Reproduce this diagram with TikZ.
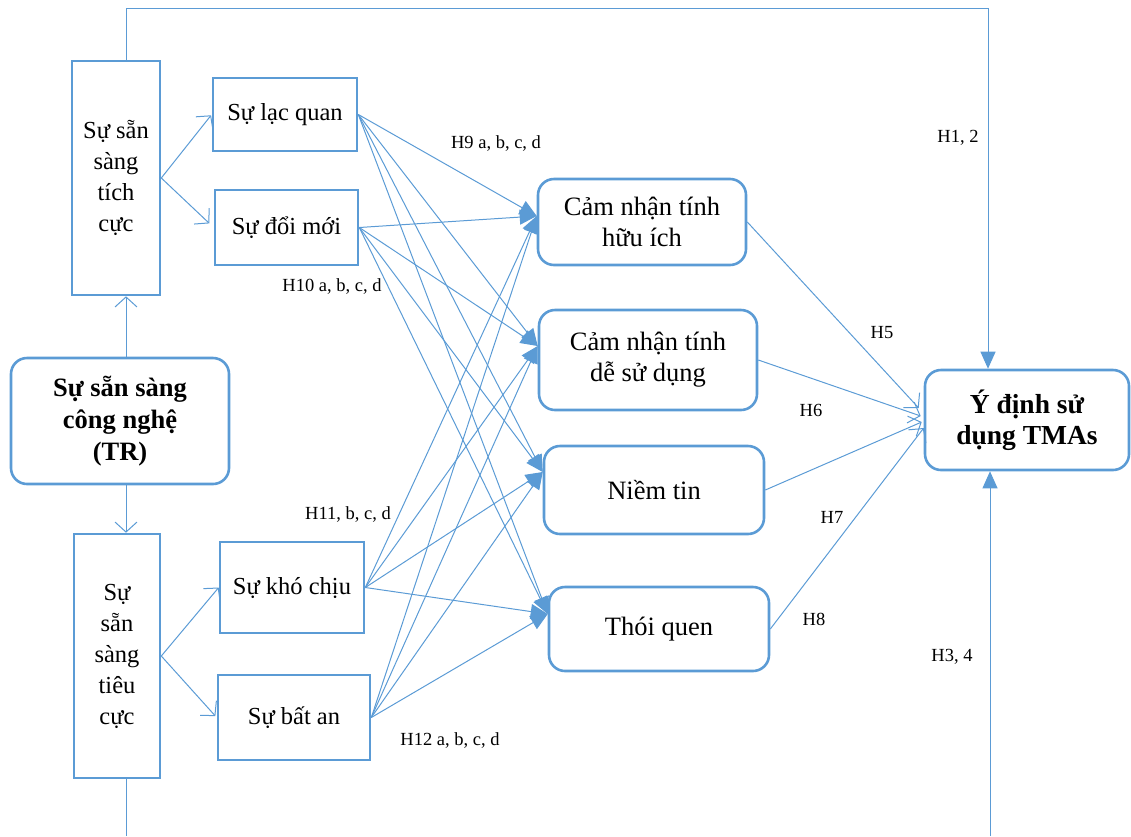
\documentclass[tikz,border=0pt]{standalone}
\usepackage{fontspec}
\setmainfont{Liberation Serif}
\usetikzlibrary{arrows.meta,calc}
\definecolor{lblue}{HTML}{5B9BD5}
\begin{document}
\begin{tikzpicture}[x=1pt,y=-1pt,
  box/.style={draw=lblue,line width=2.6pt,inner sep=0pt,align=center,font=\fontsize{24.5}{31}\selectfont},
  rbox/.style={box,rounded corners=16pt,font=\fontsize{26.5}{31}\selectfont},
  conn/.style={draw=lblue,line width=1pt},
  fat/.style={conn,-{Triangle[length=17pt,width=15pt]}},
  barb/.style={conn,-{Straight Barb[length=10pt,width=22pt,line width=1pt]}},
  lbl/.style={font=\fontsize{18.5}{20}\selectfont,inner sep=0pt}]
\useasboundingbox (0,0) rectangle (1131,836);
% nodes
\node[box,minimum width=88pt,minimum height=234pt] (pos) at (116,178) {Sự sẵn\\sàng\\tích\\cực};
\node[box,minimum width=144pt,minimum height=73pt] (lac) at (285,114.5) {Sự lạc quan};
\node[box,minimum width=143pt,minimum height=75pt] (doi) at (286.5,227.5) {Sự đổi mới};
\node[rbox,minimum width=218pt,minimum height=126pt,font=\bfseries\fontsize{26.5}{32}\selectfont] (tr) at (120,421) {Sự sẵn sàng\\công nghệ\\(TR)};
\node[box,minimum width=86pt,minimum height=244pt] (neg) at (117,656) {Sự\\sẵn\\sàng\\tiêu\\cực};
\node[box,minimum width=144pt,minimum height=91pt] (kho) at (292,587.5) {Sự khó chịu};
\node[box,minimum width=152pt,minimum height=85pt] (bat) at (294,717.5) {Sự bất an};
\node[rbox,minimum width=208pt,minimum height=86pt] (pu) at (642,222) {Cảm nhận tính\\hữu ích};
\node[rbox,minimum width=218pt,minimum height=100pt] (peou) at (648,360) {Cảm nhận tính\\dễ sử dụng};
\node[rbox,minimum width=220pt,minimum height=88pt] (nt) at (654,490) {Niềm tin};
\node[rbox,minimum width=220pt,minimum height=84pt] (tq) at (659,629) {Thói quen};
\node[rbox,minimum width=204pt,minimum height=100pt,font=\bfseries\fontsize{27.5}{31}\selectfont] (int) at (1027,420) {Ý định sử\\dụng TMAs};
% coordinates
\coordinate (lx) at (126,0);
\coordinate (rx) at (988,0);
\coordinate (topl) at (126,8);
\coordinate (botl) at (126,836);
\coordinate (botr) at (990,836);
% TR links
\draw[barb] (tr.north -| lx) -- (pos.south -| lx);
\draw[barb] (tr.south -| lx) -- (neg.north -| lx);
\draw[conn] (pos.north -| lx) -- (topl);
\draw[fat] (topl) -| (int.north -| rx);
\draw[conn] (neg.south -| lx) -- (botl);
\draw[fat] (botr) -- (int.south -| botr);
% second level
\draw[barb,shorten >=1pt] (pos.east) -- (lac.west);
\draw[barb,shorten >=6pt] (pos.east) -- (doi.west);
\draw[barb] (neg.east) -- (kho.west);
\draw[barb,shorten >=2pt] (neg.east) -- (bat.west);
% antecedents to mediators
\foreach \s in {lac,doi,kho,bat}{
  \draw[fat] (\s.east) -- ($(pu.west)+(0,-6)$);
  \draw[fat] (\s.east) -- ($(peou.west)+(0,-14)$);
  \draw[fat] (\s.east) -- ($(nt.west)+(0,-18)$);
  \draw[fat] (\s.east) -- ($(tq.west)+(0,-15)$);
}
% mediators to intention
\draw[barb] (pu.east) -- ($(int.west)+(-5,-12)$);
\draw[barb] (peou.east) -- ($(int.west)+(-3,-4)$);
\draw[barb] (nt.east) -- ($(int.west)+(-2,2)$);
\draw[barb] (tq.east) -- ($(int.west)+(0,8)$);
% labels
\node[lbl] (l9) at (496,143) {H9 a, b, c, d};
\node[lbl] (l10) at (332,286) {H10 a, b, c, d};
\node[lbl] (l11) at (348,514) {H11, b, c, d};
\node[lbl] (l12) at (450,740) {H12 a, b, c, d};
\node[lbl] (l12b) at (958,138) {H1, 2};
\node[lbl] (l5) at (882,333) {H5};
\node[lbl] (l6) at (811,410) {H6};
\node[lbl] (l7) at (832,517) {H7};
\node[lbl] (l8) at (814,619) {H8};
\node[lbl] (l34) at (952,657) {H3, 4};
\end{tikzpicture}
\end{document}
